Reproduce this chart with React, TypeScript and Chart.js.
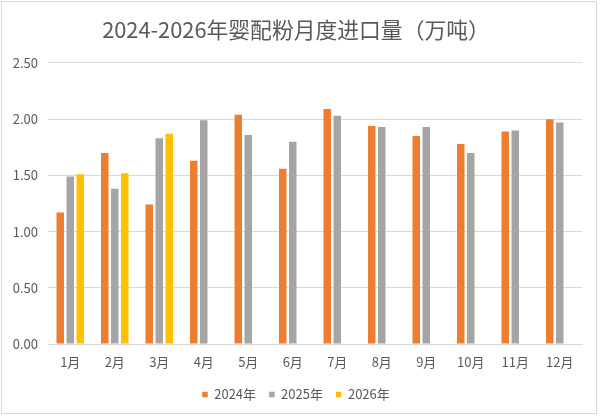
import { useEffect, useRef } from "react";
import { Chart, registerables } from "chart.js";

Chart.register(...registerables);

const months = ["1月", "2月", "3月", "4月", "5月", "6月", "7月", "8月", "9月", "10月", "11月", "12月"];
const imports2024 = [1.17, 1.7, 1.24, 1.63, 2.04, 1.56, 2.09, 1.94, 1.85, 1.78, 1.89, 2.0];
const imports2025 = [1.49, 1.38, 1.83, 1.99, 1.86, 1.8, 2.03, 1.93, 1.93, 1.7, 1.9, 1.97];
const imports2026: (number | null)[] = [1.51, 1.52, 1.87, null, null, null, null, null, null, null, null, null];
const seriesNames = ["2024年", "2025年", "2026年"];
const yMin = 0;
const yMax = 2.5;
const yStep = 0.5;

const FONT = "'Noto Sans CJK SC', 'Noto Sans', sans-serif";
const TEXT = "#595959";

const framePlugin = {
  id: "frame",
  beforeDraw(chart: Chart) {
    const { ctx, width, height } = chart;
    ctx.save();
    ctx.fillStyle = "#ffffff";
    ctx.fillRect(0, 0, width, height);
    ctx.strokeStyle = "#d9d9d9";
    ctx.lineWidth = 1;
    ctx.strokeRect(1.5, 1.5, 595, 412);
    ctx.restore();
  },
};

export default function App() {
  const canvasRef = useRef<HTMLCanvasElement | null>(null);

  useEffect(() => {
    document.body.style.margin = "0";
    const canvas = canvasRef.current;
    if (!canvas) return;
    const chart = new Chart(canvas, {
      type: "bar",
      data: {
        labels: months,
        datasets: [
          { label: seriesNames[0], data: imports2024, backgroundColor: "#ED7D31" },
          { label: seriesNames[1], data: imports2025, backgroundColor: "#A5A5A5" },
          { label: seriesNames[2], data: imports2026, backgroundColor: "#FFC000" },
        ],
      },
      options: {
        animation: false,
        responsive: false,
        maintainAspectRatio: false,
        datasets: {
          bar: { categoryPercentage: 0.674, barPercentage: 0.75 },
        },
        layout: { padding: { left: 10, right: 18, top: 0, bottom: 6 } },
        plugins: {
          title: {
            display: true,
            text: "2024-2026年婴配粉月度进口量（万吨）",
            color: TEXT,
            font: { family: FONT, size: 21.8, weight: "normal", lineHeight: 1.2 },
            padding: { top: 16.4, bottom: 20.4 },
          },
          legend: {
            position: "bottom",
            labels: {
              color: TEXT,
              font: { family: FONT, size: 13 },
              boxWidth: 5.5,
              boxHeight: 5.5,
              padding: 13,
            },
          },
          tooltip: { enabled: false },
        },
        scales: {
          x: {
            grid: { display: false, drawTicks: false },
            border: { display: true, color: "#d9d9d9" },
            ticks: { color: TEXT, font: { family: FONT, size: 13 }, padding: 10, maxRotation: 0 },
            afterFit(scale: any) {
              scale.height = 31;
            },
          },
          y: {
            min: yMin,
            max: yMax,
            grid: { color: "#d9d9d9", drawTicks: false },
            border: { display: false },
            ticks: {
              stepSize: yStep,
              color: TEXT,
              font: { family: FONT, size: 13 },
              padding: 10,
              callback: (v: any) => Number(v).toFixed(2),
            },
            afterFit(scale: any) {
              scale.width = 38;
            },
          },
        },
      },
      plugins: [framePlugin],
    });
    return () => chart.destroy();
  }, []);

  return (
    <div style={{ position: "absolute", left: 0, top: 0, width: 600, height: 417 }}>
      <canvas ref={canvasRef} width={600} height={417} style={{ width: 600, height: 417, display: "block" }} />
    </div>
  );
}
